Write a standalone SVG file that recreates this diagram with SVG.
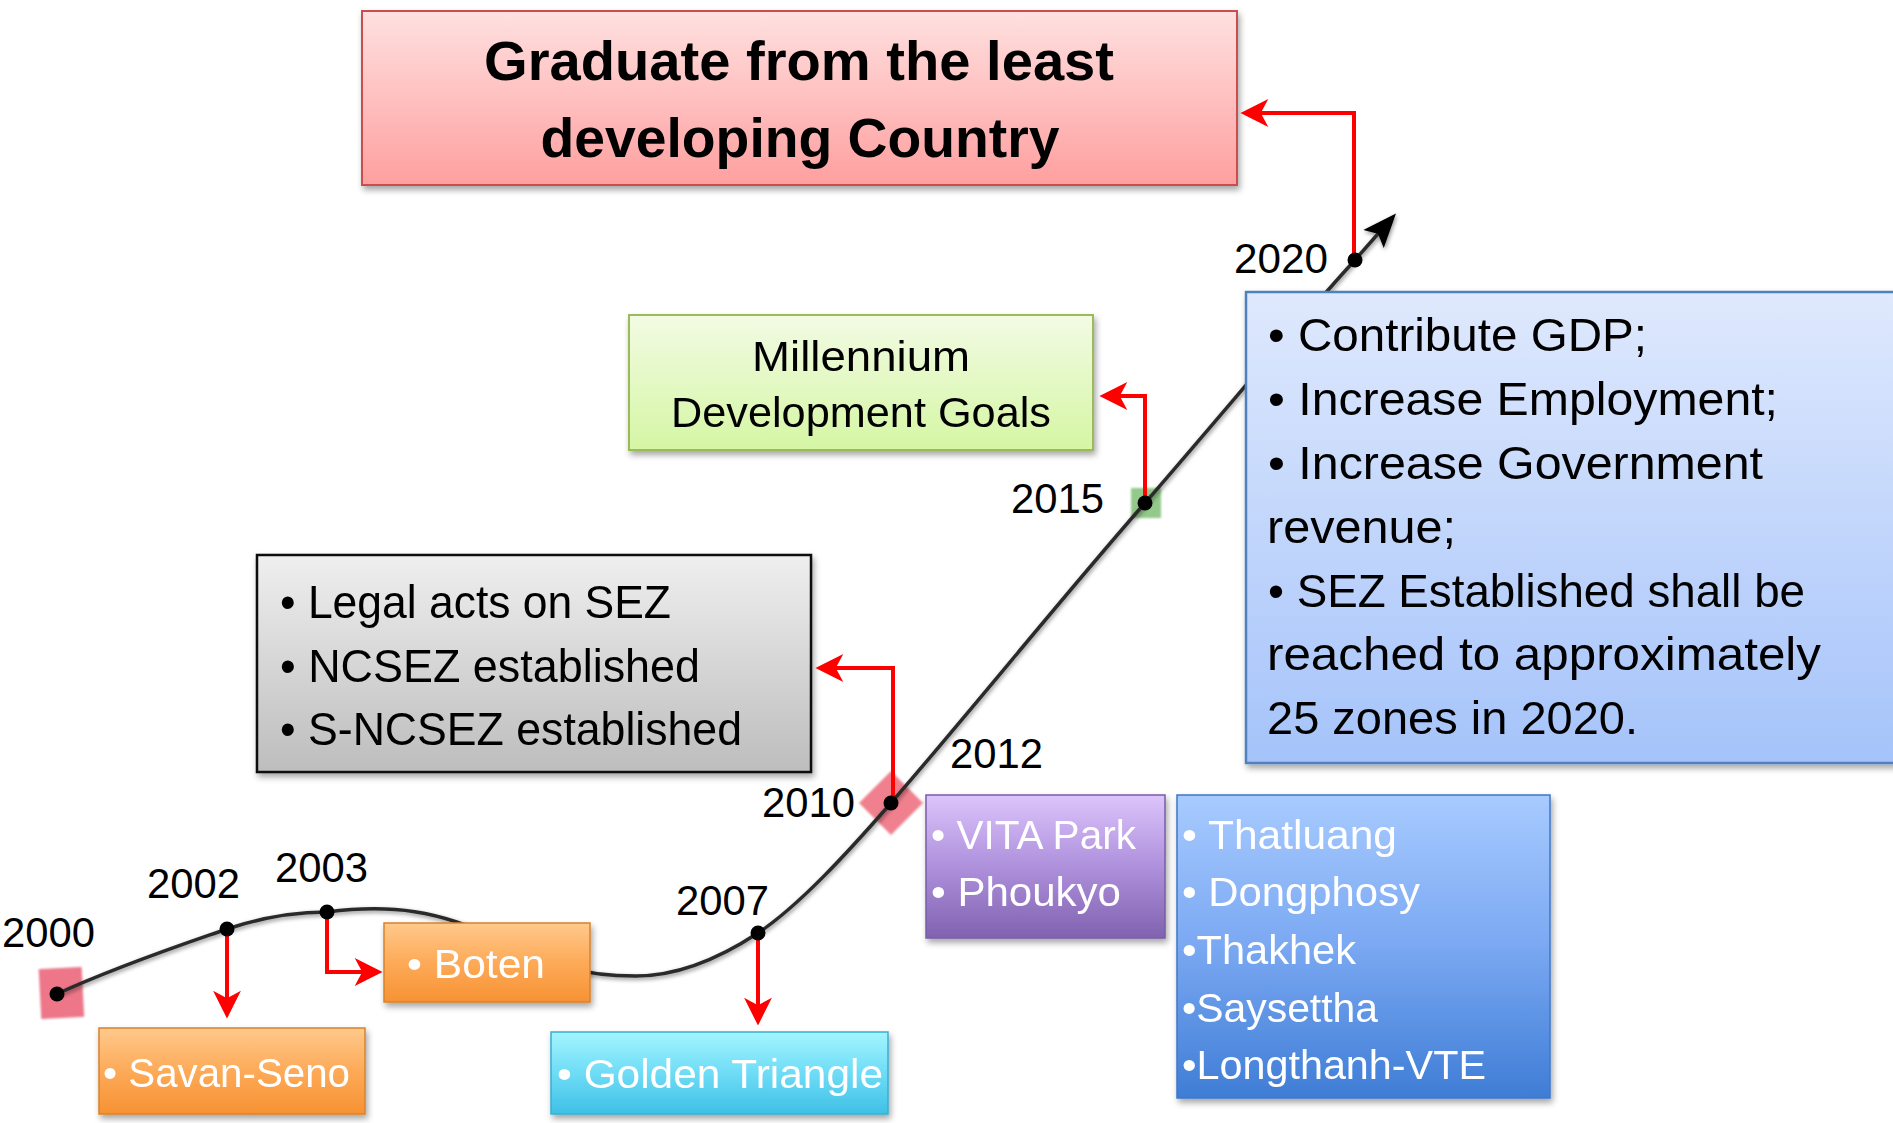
<svg xmlns="http://www.w3.org/2000/svg" width="1893" height="1123" viewBox="0 0 1893 1123">
<defs>
<style>
text{font-family:"Liberation Sans",Arial,sans-serif}
.yr{font-size:42px;fill:#000}
.w40{font-size:40px;fill:#fff}
.b46{font-size:46px;fill:#000}
.g43{font-size:43px;fill:#000}
.ttl{font-size:56px;font-weight:bold;fill:#000}
.red{fill:none;stroke:#ff0000;stroke-width:4;marker-end:url(#rh)}
.dot{fill:#000}
</style>
<marker id="rh" markerUnits="userSpaceOnUse" markerWidth="30" markerHeight="30" viewBox="0 0 28 28" refX="20" refY="14" orient="auto">
<path d="M28,14 L2,1 L9,14 L2,27 Z" fill="#ff0000"/>
</marker>
<marker id="bh" markerUnits="userSpaceOnUse" markerWidth="34" markerHeight="34" viewBox="0 0 30 30" refX="14" refY="15" orient="auto">
<path d="M30,15 L0,3 L6,15 L0,27 Z" fill="#000"/>
</marker>
<filter id="sh" x="-10%" y="-10%" width="120%" height="130%">
<feDropShadow dx="2" dy="4" stdDeviation="3" flood-color="#000" flood-opacity="0.35"/>
</filter>
<filter id="csh" x="-5%" y="-5%" width="110%" height="110%">
<feDropShadow dx="1" dy="2" stdDeviation="2" flood-color="#000" flood-opacity="0.45"/>
</filter>
<filter id="bl" x="-20%" y="-20%" width="140%" height="140%">
<feGaussianBlur stdDeviation="1.2"/>
</filter>
<linearGradient id="gPink" x1="0" y1="0" x2="0" y2="1"><stop offset="0" stop-color="#ffe0e0"/><stop offset="1" stop-color="#ff9f9f"/></linearGradient>
<linearGradient id="gGreen" x1="0" y1="0" x2="0" y2="1"><stop offset="0" stop-color="#f2fbe4"/><stop offset="1" stop-color="#d5f6a4"/></linearGradient>
<linearGradient id="gGray" x1="0" y1="0" x2="0" y2="1"><stop offset="0" stop-color="#efefef"/><stop offset="1" stop-color="#bdbdbd"/></linearGradient>
<linearGradient id="gBlueL" x1="0" y1="0" x2="0" y2="1"><stop offset="0" stop-color="#dfe9fd"/><stop offset="1" stop-color="#a5c3fa"/></linearGradient>
<linearGradient id="gOr" x1="0" y1="0" x2="0" y2="1"><stop offset="0" stop-color="#ffc98c"/><stop offset="0.5" stop-color="#fdaa58"/><stop offset="1" stop-color="#f79233"/></linearGradient>
<linearGradient id="gCy" x1="0" y1="0" x2="0" y2="1"><stop offset="0" stop-color="#a4f5ff"/><stop offset="0.5" stop-color="#6edcf6"/><stop offset="1" stop-color="#3fc0e6"/></linearGradient>
<linearGradient id="gPu" x1="0" y1="0" x2="0" y2="1"><stop offset="0" stop-color="#dcc4fb"/><stop offset="0.5" stop-color="#ae90dc"/><stop offset="1" stop-color="#8062b0"/></linearGradient>
<linearGradient id="gBl" x1="0" y1="0" x2="0" y2="1"><stop offset="0" stop-color="#a8cbff"/><stop offset="0.5" stop-color="#7aa8f2"/><stop offset="1" stop-color="#3f7dd6"/></linearGradient>
</defs>
<rect width="1893" height="1123" fill="#fff"/>

<g id="year-markers">
<rect x="40" y="968" width="43" height="50" fill="#ea6074" opacity="0.85" filter="url(#bl)" transform="rotate(-3 61 994)"/>
<polygon points="891,771 923,803 891,835 859,803" fill="#ee6a7a" opacity="0.85" filter="url(#bl)"/>
<rect x="1131" y="488" width="30" height="30" fill="#6fb763" opacity="0.75" filter="url(#bl)"/>
</g>

<g id="connectors">
<path id="timeline" d="M57,994 C120,965 190,942 227,929 C260,918 295,912 327,912 C390,904 440,910 500,940 C550,965 580,976 636,976 C680,976 720,958 758,933 C800,905 850,850 891,803 C980,700 1060,600 1145,503 C1230,405 1300,320 1355,260 L1384,227" fill="none" stroke="#2b2b2b" stroke-width="3.5" filter="url(#csh)" marker-end="url(#bh)"/>
</g>

<g id="n-graduate" filter="url(#sh)">
<rect x="362" y="11" width="875" height="174" fill="url(#gPink)" stroke="#c9504f" stroke-width="2"/>
<text class="ttl" x="799" y="80" text-anchor="middle" textLength="630" lengthAdjust="spacingAndGlyphs">Graduate from the least</text>
<text class="ttl" x="800" y="157" text-anchor="middle" textLength="519" lengthAdjust="spacingAndGlyphs">developing Country</text>
</g>

<g id="n-mdg" filter="url(#sh)">
<rect x="629" y="315" width="464" height="135" fill="url(#gGreen)" stroke="#9bbb59" stroke-width="2"/>
<text class="g43" x="861" y="371" text-anchor="middle" textLength="218" lengthAdjust="spacingAndGlyphs">Millennium</text>
<text class="g43" x="861" y="427" text-anchor="middle" textLength="380" lengthAdjust="spacingAndGlyphs">Development Goals</text>
</g>

<g id="n-legal" filter="url(#sh)">
<rect x="257" y="555" width="554" height="217" fill="url(#gGray)" stroke="#111" stroke-width="2.5"/>
<text class="b46" x="280" y="618" textLength="391" lengthAdjust="spacingAndGlyphs">• Legal acts on SEZ</text>
<text class="b46" x="280" y="682" textLength="420" lengthAdjust="spacingAndGlyphs">• NCSEZ established</text>
<text class="b46" x="280" y="745" textLength="462" lengthAdjust="spacingAndGlyphs">• S-NCSEZ established</text>
</g>

<g id="n-goals" filter="url(#sh)">
<rect x="1246" y="292" width="660" height="471" fill="url(#gBlueL)" stroke="#4f81bd" stroke-width="2.5"/>
<text class="b46" x="1268" y="351" textLength="379" lengthAdjust="spacingAndGlyphs">• Contribute GDP;</text>
<text class="b46" x="1268" y="415" textLength="510" lengthAdjust="spacingAndGlyphs">• Increase Employment;</text>
<text class="b46" x="1268" y="479" textLength="495" lengthAdjust="spacingAndGlyphs">• Increase Government</text>
<text class="b46" x="1267" y="543" textLength="189" lengthAdjust="spacingAndGlyphs">revenue;</text>
<text class="b46" x="1268" y="607" textLength="537" lengthAdjust="spacingAndGlyphs">• SEZ Established shall be</text>
<text class="b46" x="1267" y="670" textLength="554" lengthAdjust="spacingAndGlyphs">reached to approximately</text>
<text class="b46" x="1267" y="734" textLength="371" lengthAdjust="spacingAndGlyphs">25 zones in 2020.</text>
</g>

<g id="n-savan" filter="url(#sh)">
<rect x="99" y="1028" width="266" height="86" fill="url(#gOr)" stroke="#d9822b" stroke-width="1.5"/>
<text class="w40" x="103" y="1087" textLength="247" lengthAdjust="spacingAndGlyphs">• Savan-Seno</text>
</g>

<g id="n-boten" filter="url(#sh)">
<rect x="384" y="923" width="206" height="79" fill="url(#gOr)" stroke="#d9822b" stroke-width="1.5"/>
<text class="w40" x="407" y="978" textLength="138" lengthAdjust="spacingAndGlyphs">• Boten</text>
</g>

<g id="n-golden" filter="url(#sh)">
<rect x="551" y="1032" width="337" height="82" fill="url(#gCy)" stroke="#3aaed0" stroke-width="1.5"/>
<text class="w40" x="557" y="1088" textLength="326" lengthAdjust="spacingAndGlyphs">• Golden Triangle</text>
</g>

<g id="n-vita" filter="url(#sh)">
<rect x="926" y="795" width="239" height="143" fill="url(#gPu)" stroke="#7a5ca8" stroke-width="1.5"/>
<text class="w40" x="931" y="849" textLength="205" lengthAdjust="spacingAndGlyphs">• VITA Park</text>
<text class="w40" x="931" y="906" textLength="190" lengthAdjust="spacingAndGlyphs">• Phoukyo</text>
</g>

<g id="n-zones" filter="url(#sh)">
<rect x="1177" y="795" width="373" height="303" fill="url(#gBl)" stroke="#3f77c8" stroke-width="1.5"/>
<text class="w40" x="1182" y="849" textLength="215" lengthAdjust="spacingAndGlyphs">• Thatluang</text>
<text class="w40" x="1182" y="906" textLength="238" lengthAdjust="spacingAndGlyphs">• Dongphosy</text>
<text class="w40" x="1182" y="964" textLength="174" lengthAdjust="spacingAndGlyphs">•Thakhek</text>
<text class="w40" x="1182" y="1022" textLength="196" lengthAdjust="spacingAndGlyphs">•Saysettha</text>
<text class="w40" x="1182" y="1079" textLength="304" lengthAdjust="spacingAndGlyphs">•Longthanh-VTE</text>
</g>

<g id="year-labels">
<text class="yr" x="2" y="947" textLength="93" lengthAdjust="spacingAndGlyphs">2000</text>
<text class="yr" x="147" y="898" textLength="93" lengthAdjust="spacingAndGlyphs">2002</text>
<text class="yr" x="275" y="882" textLength="93" lengthAdjust="spacingAndGlyphs">2003</text>
<text class="yr" x="676" y="915" textLength="93" lengthAdjust="spacingAndGlyphs">2007</text>
<text class="yr" x="762" y="817" textLength="93" lengthAdjust="spacingAndGlyphs">2010</text>
<text class="yr" x="950" y="768" textLength="93" lengthAdjust="spacingAndGlyphs">2012</text>
<text class="yr" x="1011" y="513" textLength="93" lengthAdjust="spacingAndGlyphs">2015</text>
<text class="yr" x="1234" y="273" textLength="94" lengthAdjust="spacingAndGlyphs">2020</text>
</g>

<g id="arrows">
<path class="red" d="M227,929 L227,1010"/>
<path class="red" d="M327,912 L327,972 L374,972"/>
<path class="red" d="M758,933 L758,1017"/>
<path class="red" d="M893,803 L893,668 L824,668"/>
<path class="red" d="M1145,503 L1145,396 L1108,396"/>
<path class="red" d="M1354,260 L1354,113 L1249,113"/>
</g>

<g id="dots">
<circle class="dot" cx="57" cy="994" r="7.5"/>
<circle class="dot" cx="227" cy="929" r="7.5"/>
<circle class="dot" cx="327" cy="912" r="7.5"/>
<circle class="dot" cx="758" cy="933" r="7.5"/>
<circle class="dot" cx="891" cy="803" r="7.5"/>
<circle class="dot" cx="1145" cy="503" r="7.5"/>
<circle class="dot" cx="1355" cy="260" r="7.5"/>
</g>
</svg>
